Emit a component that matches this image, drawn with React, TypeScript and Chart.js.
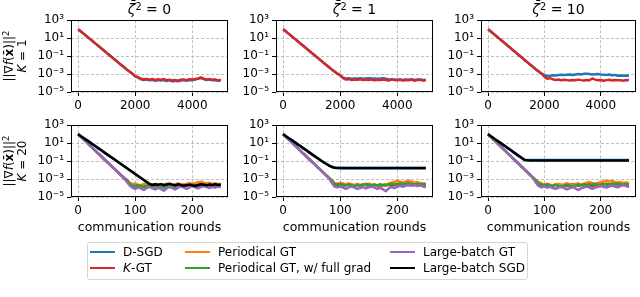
import React, { useEffect, useRef } from 'react';
import { Chart, registerables } from 'chart.js';

Chart.register(...registerables);

// ---------------- DATA ----------------
const roundsK1 = [0, 100, 200, 300, 400, 500, 600, 700, 800, 900, 1000, 1100, 1200, 1300, 1400, 1500, 1600, 1700, 1800, 1900, 2000, 2100, 2200, 2300, 2400, 2500, 2600, 2700, 2800, 2900, 3000, 3100, 3200, 3300, 3400, 3500, 3600, 3700, 3800, 3900, 4000, 4100, 4200, 4300, 4400, 4500, 4600, 4700, 4800, 4900, 5000];
const roundsK20 = [0, 5, 10, 15, 20, 25, 30, 35, 40, 45, 50, 55, 60, 65, 70, 75, 80, 85, 90, 95, 100, 105, 110, 115, 120, 125, 130, 135, 140, 145, 150, 155, 160, 165, 170, 175, 180, 185, 190, 195, 200, 205, 210, 215, 220, 225, 230, 235, 240, 245, 250];

const zetaLabels = ['0', '1', '10'];
const kLabels = ['1', '20'];
const xTicksK1 = [0, 2000, 4000];
const xTicksK20 = [0, 100, 200];
const yTickValues = [1e-5, 1e-3, 1e-1, 1e1, 1e3];
const yTickLabels = ['10⁻⁵', '10⁻³', '10⁻¹', '10¹', '10³'];
const seriesLabels = ['D-SGD', 'K-GT', 'Periodical GT', 'Periodical GT, w/ full grad', 'Large-batch GT', 'Large-batch SGD'];

// K = 1 : rounds 0..1900 (shared decay), then 2000..5000
const decayK1 = [100, 55, 30, 16, 8.8, 4.8, 2.6, 1.4, 0.78, 0.42, 0.23, 0.125, 0.068, 0.037, 0.02, 0.011, 0.006, 0.0033, 0.0019, 0.0011];

const dsgdK1Z0 = [5.5e-4, 4e-4, 2.6e-4, 2.2e-4, 2.4e-4, 2.0e-4, 2.3e-4, 1.8e-4, 2.1e-4, 1.9e-4, 2.2e-4, 1.7e-4, 2.0e-4, 1.5e-4, 1.8e-4, 1.6e-4, 1.9e-4, 2.2e-4, 1.8e-4, 2.2e-4, 2.1e-4, 2.5e-4, 2.9e-4, 3.6e-4, 2.7e-4, 2.2e-4, 2.4e-4, 2.0e-4, 2.2e-4, 1.8e-4, 2.0e-4];
const kgtK1Z0 = [6e-4, 4.5e-4, 3e-4, 2.6e-4, 2.9e-4, 2.4e-4, 2.8e-4, 2.2e-4, 2.6e-4, 2.3e-4, 2.7e-4, 2.1e-4, 2.4e-4, 1.9e-4, 2.2e-4, 1.8e-4, 2.3e-4, 2.5e-4, 2.1e-4, 2.6e-4, 2.4e-4, 2.8e-4, 3.2e-4, 4.2e-4, 3.0e-4, 2.5e-4, 2.7e-4, 2.3e-4, 2.5e-4, 2.0e-4, 2.2e-4];
const dsgdK1Z1 = [7.5e-4, 4e-4, 3.2e-4, 3.4e-4, 3.0e-4, 3.3e-4, 3.1e-4, 3.5e-4, 3.0e-4, 3.2e-4, 3.4e-4, 3.1e-4, 3.3e-4, 3.0e-4, 3.2e-4, 3.5e-4, 3.1e-4, 2.4e-4, 2.7e-4, 2.4e-4, 2.3e-4, 2.5e-4, 2.2e-4, 2.4e-4, 2.3e-4, 2.6e-4, 2.2e-4, 2.4e-4, 2.5e-4, 2.2e-4, 2.3e-4];
const kgtK1Z1 = [7e-4, 3.5e-4, 2.4e-4, 2.7e-4, 2.2e-4, 2.5e-4, 2.3e-4, 2.6e-4, 2.1e-4, 2.4e-4, 2.2e-4, 2.5e-4, 2.0e-4, 2.3e-4, 2.1e-4, 2.4e-4, 2.2e-4, 1.9e-4, 2.6e-4, 2.2e-4, 2.0e-4, 2.3e-4, 1.9e-4, 2.2e-4, 2.0e-4, 2.4e-4, 1.8e-4, 2.1e-4, 2.3e-4, 1.9e-4, 2.0e-4];
const dsgdK1Z10 = [8e-4, 6e-4, 6.5e-4, 7.5e-4, 7e-4, 8e-4, 8.5e-4, 8e-4, 8.5e-4, 9e-4, 8e-4, 9e-4, 1e-3, 9e-4, 1.05e-3, 1.1e-3, 1e-3, 9e-4, 9.5e-4, 1e-3, 9e-4, 8.5e-4, 8e-4, 9e-4, 7.5e-4, 8e-4, 6.5e-4, 7e-4, 6.5e-4, 7e-4, 6.5e-4];
const kgtK1Z10 = [5e-4, 3e-4, 3.5e-4, 2.6e-4, 2.2e-4, 2.5e-4, 2.0e-4, 2.3e-4, 2.1e-4, 1.9e-4, 2.2e-4, 2.0e-4, 2.4e-4, 2.1e-4, 1.9e-4, 2.2e-4, 2.0e-4, 3.2e-4, 2.4e-4, 2.0e-4, 2.2e-4, 1.8e-4, 2.1e-4, 2.3e-4, 1.9e-4, 2.2e-4, 2.0e-4, 2.1e-4, 1.8e-4, 2.2e-4, 2.0e-4];

// K = 20 : GT methods share decay 0..80, then 85..250
const gtDecayK20 = [100, 50, 25, 12.3, 6, 3, 1.5, 0.74, 0.37, 0.18, 0.09, 0.045, 0.022, 0.011, 0.0055, 0.0027, 0.0014];
// SGD-type methods share decay 0..65, then 70..250
const sgdDecayK20 = [100, 60, 36, 21.6, 13, 7.8, 4.7, 2.8, 1.7, 1.0, 0.6, 0.36, 0.22, 0.13];

const dsgdK20Z0 = [0.08, 0.048, 0.029, 0.017, 0.0102, 0.0061, 0.0037, 0.0022, 0.0013, 8e-4, 4.8e-4, 2.9e-4, 2.1e-4, 2.5e-4, 2.2e-4, 2.6e-4, 2.0e-4, 2.4e-4, 2.9e-4, 2.3e-4, 1.9e-4, 2.5e-4, 2.1e-4, 1.7e-4, 2.0e-4, 2.3e-4, 1.9e-4, 1.6e-4, 2.1e-4, 2.5e-4, 2.2e-4, 1.9e-4, 2.4e-4, 2.1e-4, 2.5e-4, 2.1e-4, 2.3e-4];
const lbsgdK20Z0 = [0.078, 0.047, 0.028, 0.017, 0.01, 0.006, 0.0036, 0.0022, 0.0013, 8e-4, 4.7e-4, 2.8e-4, 2.2e-4, 2.6e-4, 2.3e-4, 2.7e-4, 2.1e-4, 2.5e-4, 3.0e-4, 2.4e-4, 2.0e-4, 2.6e-4, 2.2e-4, 1.8e-4, 2.1e-4, 2.4e-4, 2.0e-4, 1.7e-4, 2.2e-4, 2.6e-4, 2.3e-4, 2.0e-4, 2.5e-4, 2.2e-4, 2.6e-4, 2.2e-4, 2.4e-4];
const kgtK20Z0 = [7e-4, 3e-4, 1.8e-4, 1.4e-4, 1.6e-4, 2.2e-4, 1.7e-4, 1.3e-4, 1.9e-4, 2.4e-4, 1.8e-4, 1.5e-4, 2.0e-4, 1.6e-4, 1.2e-4, 1.7e-4, 2.3e-4, 1.9e-4, 1.4e-4, 1.8e-4, 2.5e-4, 2.0e-4, 1.6e-4, 2.1e-4, 2.7e-4, 2.2e-4, 1.7e-4, 2.0e-4, 2.4e-4, 1.9e-4, 1.5e-4, 2.0e-4, 2.3e-4, 1.8e-4];
const pgtK20Z0 = [9e-4, 4e-4, 2.6e-4, 3.2e-4, 2.4e-4, 2.0e-4, 2.8e-4, 3.4e-4, 2.5e-4, 2.1e-4, 2.9e-4, 2.3e-4, 1.8e-4, 2.5e-4, 3.0e-4, 2.4e-4, 2.0e-4, 2.7e-4, 3.3e-4, 2.6e-4, 2.2e-4, 2.9e-4, 3.6e-4, 2.8e-4, 3.5e-4, 4.4e-4, 5.2e-4, 4.0e-4, 3.2e-4, 3.8e-4, 2.9e-4, 3.4e-4, 2.7e-4, 3.1e-4];
const pgtFullK20Z0 = [8e-4, 3.5e-4, 2.0e-4, 1.6e-4, 2.1e-4, 1.7e-4, 1.3e-4, 1.8e-4, 2.3e-4, 1.7e-4, 1.4e-4, 1.9e-4, 1.5e-4, 1.1e-4, 1.6e-4, 2.1e-4, 1.6e-4, 1.3e-4, 1.8e-4, 2.2e-4, 1.7e-4, 2.3e-4, 1.8e-4, 2.4e-4, 2.0e-4, 1.6e-4, 2.2e-4, 2.6e-4, 2.1e-4, 1.7e-4, 2.2e-4, 1.8e-4, 2.3e-4, 2.0e-4];
const lbgtK20Z0 = [5e-4, 2e-4, 1.1e-4, 8e-5, 1.2e-4, 9e-5, 6e-5, 1.0e-4, 1.4e-4, 9e-5, 7e-5, 1.1e-4, 8e-5, 5e-5, 9e-5, 1.3e-4, 1.0e-4, 7e-5, 1.1e-4, 1.5e-4, 1.1e-4, 8e-5, 1.2e-4, 1.6e-4, 1.2e-4, 9e-5, 1.3e-4, 1.7e-4, 1.3e-4, 1.0e-4, 1.4e-4, 1.1e-4, 1.5e-4, 1.2e-4];

const dsgdK20Z1 = [0.083, 0.053, 0.035, 0.025, 0.02, 0.0185, 0.018, 0.0178, 0.0177, 0.0178, 0.0177, 0.0176, 0.0177, 0.0178, 0.0177, 0.0177, 0.0176, 0.0178, 0.0177, 0.0178, 0.0177, 0.0176, 0.0177, 0.0178, 0.0177, 0.0177, 0.0176, 0.0178, 0.0177, 0.0178, 0.0177, 0.0176, 0.0177, 0.0178, 0.0177, 0.0177, 0.0176];
const lbsgdK20Z1 = [0.08, 0.05, 0.032, 0.022, 0.018, 0.0165, 0.016, 0.0158, 0.0157, 0.0158, 0.0157, 0.0156, 0.0157, 0.0158, 0.0157, 0.0157, 0.0156, 0.0158, 0.0157, 0.0158, 0.0157, 0.0156, 0.0157, 0.0158, 0.0157, 0.0157, 0.0156, 0.0158, 0.0157, 0.0158, 0.0157, 0.0156, 0.0157, 0.0158, 0.0157, 0.0157, 0.0156];
const kgtK20Z1 = [6e-4, 2.5e-4, 2.0e-4, 2.4e-4, 1.8e-4, 2.2e-4, 2.6e-4, 2.0e-4, 1.7e-4, 2.3e-4, 1.9e-4, 2.5e-4, 2.1e-4, 1.6e-4, 2.0e-4, 2.4e-4, 1.9e-4, 1.5e-4, 2.1e-4, 2.6e-4, 2.2e-4, 1.8e-4, 2.3e-4, 2.8e-4, 2.2e-4, 3.0e-4, 2.5e-4, 2.0e-4, 2.4e-4, 2.9e-4, 2.3e-4, 2.0e-4, 2.6e-4, 2.2e-4];
const pgtK20Z1 = [8e-4, 3.5e-4, 3.0e-4, 3.8e-4, 3.2e-4, 2.6e-4, 3.3e-4, 2.7e-4, 2.2e-4, 2.9e-4, 2.4e-4, 2.0e-4, 2.6e-4, 3.1e-4, 2.5e-4, 2.1e-4, 1.7e-4, 2.3e-4, 1.8e-4, 2.5e-4, 3.2e-4, 4.0e-4, 5.0e-4, 6.2e-4, 5.0e-4, 4.2e-4, 5.4e-4, 6.5e-4, 5.2e-4, 4.0e-4, 4.6e-4, 3.6e-4, 3.0e-4, 3.4e-4];
const pgtFullK20Z1 = [7e-4, 3e-4, 2.4e-4, 2.8e-4, 2.2e-4, 1.9e-4, 2.5e-4, 2.1e-4, 1.6e-4, 2.2e-4, 1.8e-4, 2.4e-4, 2.9e-4, 2.3e-4, 1.9e-4, 2.4e-4, 2.0e-4, 2.6e-4, 2.2e-4, 1.8e-4, 2.5e-4, 3.0e-4, 2.4e-4, 2.9e-4, 3.3e-4, 2.7e-4, 3.1e-4, 3.6e-4, 2.9e-4, 2.4e-4, 3.0e-4, 2.5e-4, 2.9e-4, 2.4e-4];
const lbgtK20Z1 = [4e-4, 1.5e-4, 1.2e-4, 1.5e-4, 1.1e-4, 8e-5, 1.2e-4, 1.5e-4, 1.1e-4, 8e-5, 1.0e-4, 1.3e-4, 9e-5, 1.2e-4, 1.5e-4, 1.1e-4, 8e-5, 1.1e-4, 7e-5, 4.5e-5, 9e-5, 1.3e-4, 1.0e-4, 1.4e-4, 1.8e-4, 1.4e-4, 1.9e-4, 2.3e-4, 1.8e-4, 2.2e-4, 1.7e-4, 2.0e-4, 1.5e-4, 1.2e-4];

const dsgdK20Z10 = [0.135, 0.134, 0.133, 0.133, 0.134, 0.133, 0.133, 0.134, 0.133, 0.133, 0.134, 0.133, 0.133, 0.134, 0.133, 0.133, 0.134, 0.133, 0.133, 0.134, 0.133, 0.133, 0.134, 0.133, 0.133, 0.134, 0.133, 0.133, 0.134, 0.133, 0.133, 0.134, 0.133, 0.133, 0.134, 0.133, 0.133];
const lbsgdK20Z10 = [0.122, 0.12, 0.119, 0.119, 0.12, 0.119, 0.119, 0.12, 0.119, 0.119, 0.12, 0.119, 0.119, 0.12, 0.119, 0.119, 0.12, 0.119, 0.119, 0.12, 0.119, 0.119, 0.12, 0.119, 0.119, 0.12, 0.119, 0.119, 0.12, 0.119, 0.119, 0.12, 0.119, 0.119, 0.12, 0.119, 0.119];
const kgtK20Z10 = [5e-4, 2.2e-4, 1.8e-4, 2.3e-4, 1.9e-4, 1.5e-4, 2.0e-4, 2.5e-4, 1.9e-4, 1.6e-4, 2.1e-4, 1.7e-4, 2.2e-4, 2.7e-4, 2.1e-4, 1.8e-4, 2.3e-4, 1.9e-4, 2.4e-4, 2.0e-4, 1.7e-4, 2.2e-4, 2.8e-4, 2.3e-4, 3.0e-4, 2.5e-4, 2.1e-4, 2.6e-4, 3.1e-4, 2.5e-4, 2.0e-4, 2.4e-4, 1.9e-4, 2.2e-4];
const pgtK20Z10 = [8e-4, 4.5e-4, 3.2e-4, 2.5e-4, 3.0e-4, 2.3e-4, 1.8e-4, 2.4e-4, 2.9e-4, 2.2e-4, 2.7e-4, 3.4e-4, 2.6e-4, 2.1e-4, 2.8e-4, 3.3e-4, 2.5e-4, 3.1e-4, 3.8e-4, 4.6e-4, 3.7e-4, 3.0e-4, 3.6e-4, 4.5e-4, 5.5e-4, 6.5e-4, 5.2e-4, 6.0e-4, 4.8e-4, 3.9e-4, 4.6e-4, 3.6e-4, 4.2e-4, 3.4e-4];
const pgtFullK20Z10 = [7e-4, 3.2e-4, 2.3e-4, 1.9e-4, 2.5e-4, 2.0e-4, 1.6e-4, 2.1e-4, 1.7e-4, 1.3e-4, 1.8e-4, 2.3e-4, 1.8e-4, 1.5e-4, 2.0e-4, 2.5e-4, 2.0e-4, 2.6e-4, 2.1e-4, 2.7e-4, 2.2e-4, 2.8e-4, 2.3e-4, 1.9e-4, 2.4e-4, 3.0e-4, 2.5e-4, 3.1e-4, 2.6e-4, 3.2e-4, 2.7e-4, 2.2e-4, 2.8e-4, 2.4e-4];
const lbgtK20Z10 = [4e-4, 1.6e-4, 1.2e-4, 1.5e-4, 1.1e-4, 1.4e-4, 1.0e-4, 8e-5, 1.1e-4, 1.4e-4, 1.0e-4, 7e-5, 1.0e-4, 1.3e-4, 9e-5, 6e-5, 9e-5, 1.2e-4, 1.5e-4, 1.1e-4, 8e-5, 1.1e-4, 1.4e-4, 1.8e-4, 1.4e-4, 1.1e-4, 1.5e-4, 1.9e-4, 1.5e-4, 1.2e-4, 1.7e-4, 2.1e-4, 1.6e-4, 1.3e-4];

// ---------------- STYLE / LAYOUT ----------------
const COLORS = ['#1f77b4', '#d62728', '#ff7f0e', '#2ca02c', '#9467bd', '#000000'];
const FONT = "'DejaVu Sans', sans-serif";
const PAD_L = 50, PAD_T = 10, PAD_R = 12, PAD_B = 30;
const COLS = [[71, 228], [276, 433], [481, 636]];
const ROWS = [[20, 92], [125, 197]];

type Series = { color: string; y: number[]; x: number[] };
type PanelSpec = { l: number; r: number; t: number; b: number; xMin: number; xMax: number; xTicks: number[]; series: Series[] };

const k1Data = [[dsgdK1Z0, kgtK1Z0], [dsgdK1Z1, kgtK1Z1], [dsgdK1Z10, kgtK1Z10]];
const k20Data = [
  [dsgdK20Z0, kgtK20Z0, pgtK20Z0, pgtFullK20Z0, lbgtK20Z0, lbsgdK20Z0],
  [dsgdK20Z1, kgtK20Z1, pgtK20Z1, pgtFullK20Z1, lbgtK20Z1, lbsgdK20Z1],
  [dsgdK20Z10, kgtK20Z10, pgtK20Z10, pgtFullK20Z10, lbgtK20Z10, lbsgdK20Z10],
];

const panels: PanelSpec[] = [];
COLS.forEach(([l, r], c) => {
  panels.push({
    l, r, t: ROWS[0][0], b: ROWS[0][1], xMin: -250, xMax: 5250, xTicks: xTicksK1,
    series: k1Data[c].map((tail, i) => ({ color: COLORS[i], x: roundsK1, y: [...decayK1, ...tail] })),
  });
});
COLS.forEach(([l, r], c) => {
  panels.push({
    l, r, t: ROWS[1][0], b: ROWS[1][1], xMin: -12.5, xMax: 262.5, xTicks: xTicksK20,
    series: k20Data[c].map((tail, i) => ({
      color: COLORS[i], x: roundsK20,
      y: (i === 0 || i === 5) ? [...sgdDecayK20, ...tail] : [...gtDecayK20, ...tail],
    })),
  });
});

const framePlugin = {
  id: 'frame',
  afterDatasetsDraw(chart: any) {
    const { ctx, chartArea } = chart;
    const { left, top, right, bottom } = chartArea;
    ctx.save();
    ctx.strokeStyle = '#000';
    ctx.lineWidth = 1;
    ctx.setLineDash([]);
    ctx.strokeRect(Math.round(left) + 0.5, Math.round(top) + 0.5, Math.round(right - left) - 1, Math.round(bottom - top) - 1);
    ctx.restore();
  },
};

function Panel({ spec }: { spec: PanelSpec }) {
  const ref = useRef<HTMLCanvasElement>(null);
  const w = spec.r - spec.l + PAD_L + PAD_R;
  const h = spec.b - spec.t + PAD_T + PAD_B;
  useEffect(() => {
    const n = spec.series.length;
    const chart = new Chart(ref.current as HTMLCanvasElement, {
      type: 'line',
      data: {
        datasets: spec.series.map((s, i) => ({
          data: s.y.map((v, j) => ({ x: s.x[j], y: v })),
          borderColor: s.color,
          backgroundColor: s.color,
          borderWidth: 2.5,
          pointRadius: 0,
          tension: 0,
          fill: false,
          borderJoinStyle: 'round',
          order: n - i,
        })),
      } as any,
      options: {
        animation: false,
        responsive: false,
        devicePixelRatio: 1,
        events: [],
        layout: { padding: { left: 0, top: PAD_T, right: PAD_R, bottom: 0 }, autoPadding: false },
        plugins: { legend: { display: false }, tooltip: { enabled: false }, title: { display: false } },
        scales: {
          x: {
            type: 'linear',
            min: spec.xMin,
            max: spec.xMax,
            afterFit: (s: any) => { s.height = PAD_B; },
            afterBuildTicks: (s: any) => { s.ticks = spec.xTicks.map((v) => ({ value: v })); },
            ticks: { color: '#000', font: { family: FONT, size: 12 }, padding: 3, maxRotation: 0, autoSkip: false, callback: (v: any) => String(v) },
            grid: { color: '#b0b0b0', lineWidth: 0.8, tickColor: '#000', tickLength: 4, tickWidth: 1, drawTicks: true },
            border: { display: false, dash: [3, 2] },
          },
          y: {
            type: 'logarithmic',
            min: 1e-5,
            max: 1e3,
            afterFit: (s: any) => { s.width = PAD_L; },
            afterBuildTicks: (s: any) => { s.ticks = yTickValues.map((v) => ({ value: v, major: false })); },
            ticks: { color: '#000', font: { family: FONT, size: 12 }, padding: 3, autoSkip: false, callback: (_v: any, i: number) => yTickLabels[i] },
            grid: { color: '#b0b0b0', lineWidth: 0.8, tickColor: '#000', tickLength: 4, tickWidth: 1, drawTicks: true },
            border: { display: false, dash: [3, 2] },
          },
        },
      } as any,
      plugins: [framePlugin],
    });
    return () => chart.destroy();
  }, []);
  return (
    <canvas
      ref={ref}
      width={w}
      height={h}
      style={{ position: 'absolute', left: spec.l - PAD_L, top: spec.t - PAD_T, width: w, height: h }}
    />
  );
}

const supStyle: React.CSSProperties = { fontSize: '0.7em', verticalAlign: '0.45em', lineHeight: 0 };

function YLabel({ k, cy }: { k: string; cy: number }) {
  const cx = 15.5;
  return (
    <div
      style={{
        position: 'absolute', left: cx - 50, top: cy - 13, width: 100, height: 26,
        transform: 'rotate(-90deg)', transformOrigin: '50% 50%', textAlign: 'center',
        fontSize: 12, lineHeight: '12.5px', whiteSpace: 'nowrap',
      }}
    >
      <div>||∇<i>f</i>(<b>x̄</b>)||<span style={supStyle}>2</span></div>
      <div><i>K</i> = {k}</div>
    </div>
  );
}

export default function App() {
  const legendColX = [90, 185, 390];
  const legendRowY = [252, 268];
  return (
    <div
      style={{
        position: 'absolute', left: 0, top: 0, width: 640, height: 297, background: '#fff',
        fontFamily: FONT, color: '#000', overflow: 'hidden',
      }}
    >
      {panels.map((p, i) => <Panel key={i} spec={p} />)}
      {COLS.map(([l, r], c) => (
        <div key={'t' + c} style={{ position: 'absolute', left: l, width: r - l, top: 0, textAlign: 'center', fontSize: 14, lineHeight: '18px' }}>
          <i>ζ̄</i><span style={supStyle}>2</span> = {zetaLabels[c]}
        </div>
      ))}
      {COLS.map(([l, r], c) => (
        <div key={'x' + c} style={{ position: 'absolute', left: l - 20, width: r - l + 40, top: 219, textAlign: 'center', fontSize: 12.5, lineHeight: '16px', whiteSpace: 'nowrap' }}>
          communication rounds
        </div>
      ))}
      <YLabel k={kLabels[0]} cy={(ROWS[0][0] + ROWS[0][1]) / 2} />
      <YLabel k={kLabels[1]} cy={(ROWS[1][0] + ROWS[1][1]) / 2} />
      <div
        style={{
          position: 'absolute', left: 87, top: 242, width: 441, height: 38, boxSizing: 'border-box',
          border: '1px solid #d5d5d5', borderRadius: 3, background: 'rgba(255,255,255,0.8)',
        }}
      />
      {seriesLabels.map((lab, i) => {
        const col = Math.floor(i / 2);
        const row = i % 2;
        const x = legendColX[col];
        const y = legendRowY[row];
        return (
          <React.Fragment key={'lg' + i}>
            <div style={{ position: 'absolute', left: x, top: y - 1, width: 25, height: 2, background: COLORS[i] }} />
            <div style={{ position: 'absolute', left: x + 33, top: y - 8, fontSize: 12, lineHeight: '16px', whiteSpace: 'nowrap' }}>
              {i === 1 ? (<><i>K</i>-GT</>) : lab}
            </div>
          </React.Fragment>
        );
      })}
    </div>
  );
}
